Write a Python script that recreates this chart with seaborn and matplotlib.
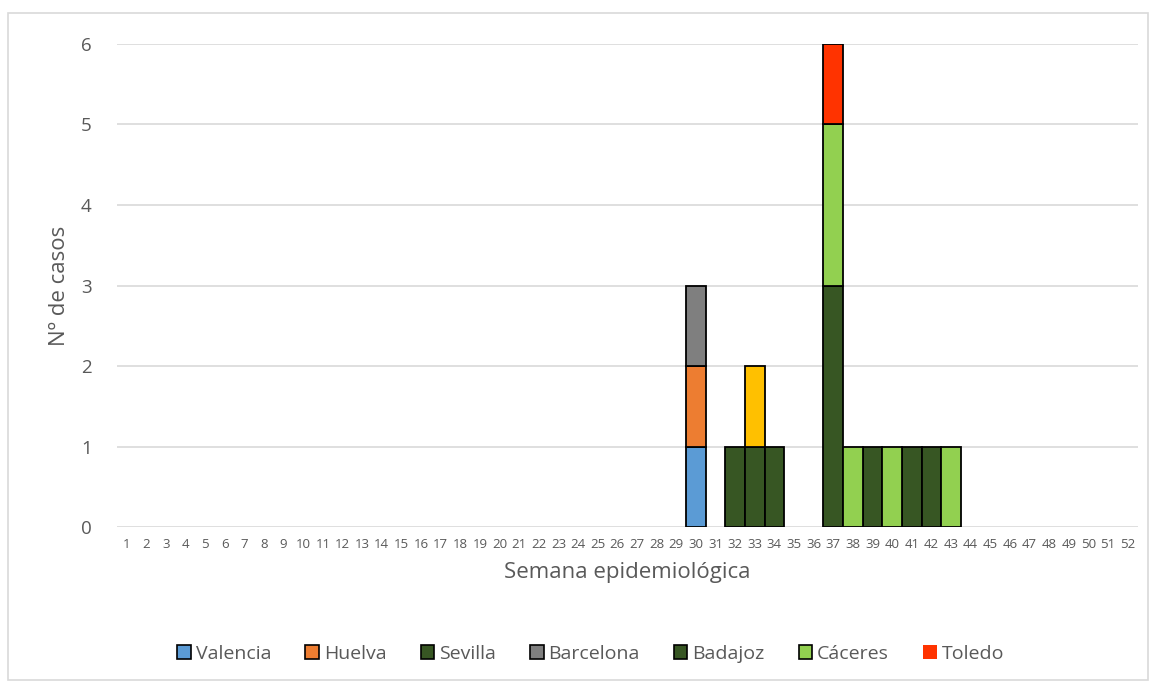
import pandas as pd
import numpy as np
import seaborn as sns
import matplotlib.pyplot as plt
from matplotlib.patches import Patch, Rectangle

# cases per epidemiological week, by province
semanas = list(range(1, 53))

valencia_sem, valencia_casos = [30], [1]
huelva_sem, huelva_casos = [30], [1]
sevilla_sem, sevilla_casos = [32, 33, 34], [1, 1, 1]
barcelona_sem, barcelona_casos = [30], [1]
sin_leyenda_sem, sin_leyenda_casos = [33], [1]  # yellow series, not shown in legend
badajoz_sem, badajoz_casos = [37, 39, 41, 42], [3, 1, 1, 1]
caceres_sem, caceres_casos = [37, 38, 40, 43], [2, 1, 1, 1]
toledo_sem, toledo_casos = [37], [1]

provincias = ['Valencia', 'Huelva', 'Sevilla', 'Barcelona', 'Otra', 'Badajoz', 'Cáceres', 'Toledo']
colores = {'Valencia': '#5B9BD5', 'Huelva': '#ED7D31', 'Sevilla': '#375623',
           'Barcelona': '#7F7F7F', 'Otra': '#FFC000', 'Badajoz': '#375623',
           'Cáceres': '#92D050', 'Toledo': '#FF3300'}

series = {'Valencia': (valencia_sem, valencia_casos), 'Huelva': (huelva_sem, huelva_casos),
          'Sevilla': (sevilla_sem, sevilla_casos), 'Barcelona': (barcelona_sem, barcelona_casos),
          'Otra': (sin_leyenda_sem, sin_leyenda_casos), 'Badajoz': (badajoz_sem, badajoz_casos),
          'Cáceres': (caceres_sem, caceres_casos), 'Toledo': (toledo_sem, toledo_casos)}

rows = []
for prov, (sem, casos) in series.items():
    for s, c in zip(sem, casos):
        rows.append({'semana': s, 'provincia': prov, 'casos': c})
df = pd.DataFrame(rows)

sns.set_theme(style='white')
plt.rcParams['font.family'] = ['Open Sans', 'DejaVu Sans']
gris = '#595959'

fig = plt.figure(figsize=(11.56, 6.84), dpi=100)
ax = fig.add_axes([0.101, 0.2295, 0.883, 0.7062])

# seaborn stacks the first hue level on top, so pass the order reversed
sns.histplot(data=df, x='semana', hue='provincia', weights='casos', multiple='stack',
             discrete=True, binrange=(1, 52), shrink=1, hue_order=provincias[::-1],
             palette=colores, alpha=1, edgecolor='black', linewidth=1.3,
             legend=False, ax=ax, zorder=3)
for p in ax.patches:
    if p.get_height() == 0:
        p.set_visible(False)

ax.set_xlim(0.5, 52.5)
ax.set_ylim(0, 6)
ax.set_yticks(range(0, 7))
ax.set_xticks(semanas)
ax.set_xticklabels([str(s) for s in semanas], fontsize=9.5, color=gris)
ax.tick_params(axis='y', labelsize=13.5, labelcolor=gris, length=0, pad=18)
ax.tick_params(axis='x', length=0, pad=8)
ax.yaxis.grid(True, color='#D9D9D9', linewidth=1.2, zorder=0)
ax.set_axisbelow(True)
for sp in ax.spines.values():
    sp.set_visible(False)

ax.set_xlabel('Semana epidemiológica', fontsize=16, color=gris, labelpad=8)
ax.set_ylabel('Nº de casos', fontsize=16, color=gris, labelpad=8)

handles = []
for prov in ['Valencia', 'Huelva', 'Sevilla', 'Barcelona', 'Badajoz', 'Cáceres', 'Toledo']:
    ec = 'none' if prov == 'Toledo' else 'black'
    handles.append(Patch(facecolor=colores[prov], edgecolor=ec, linewidth=1.2, label=prov))
leg = fig.legend(handles=handles, loc='center', bbox_to_anchor=(0.511, 1 - 654 / 684), ncol=7,
                 frameon=False, fontsize=14, handlelength=0.7, handleheight=0.7,
                 handletextpad=0.25, columnspacing=1.75)
for t in leg.get_texts():
    t.set_color(gris)

# light frame around the chart area
fig.patches.append(Rectangle((8 / 1156, 4 / 684), 1140 / 1156, 667 / 684, transform=fig.transFigure,
                             fill=False, edgecolor='#D9D9D9', linewidth=1.2))

fig.savefig('out.png', dpi=100)
